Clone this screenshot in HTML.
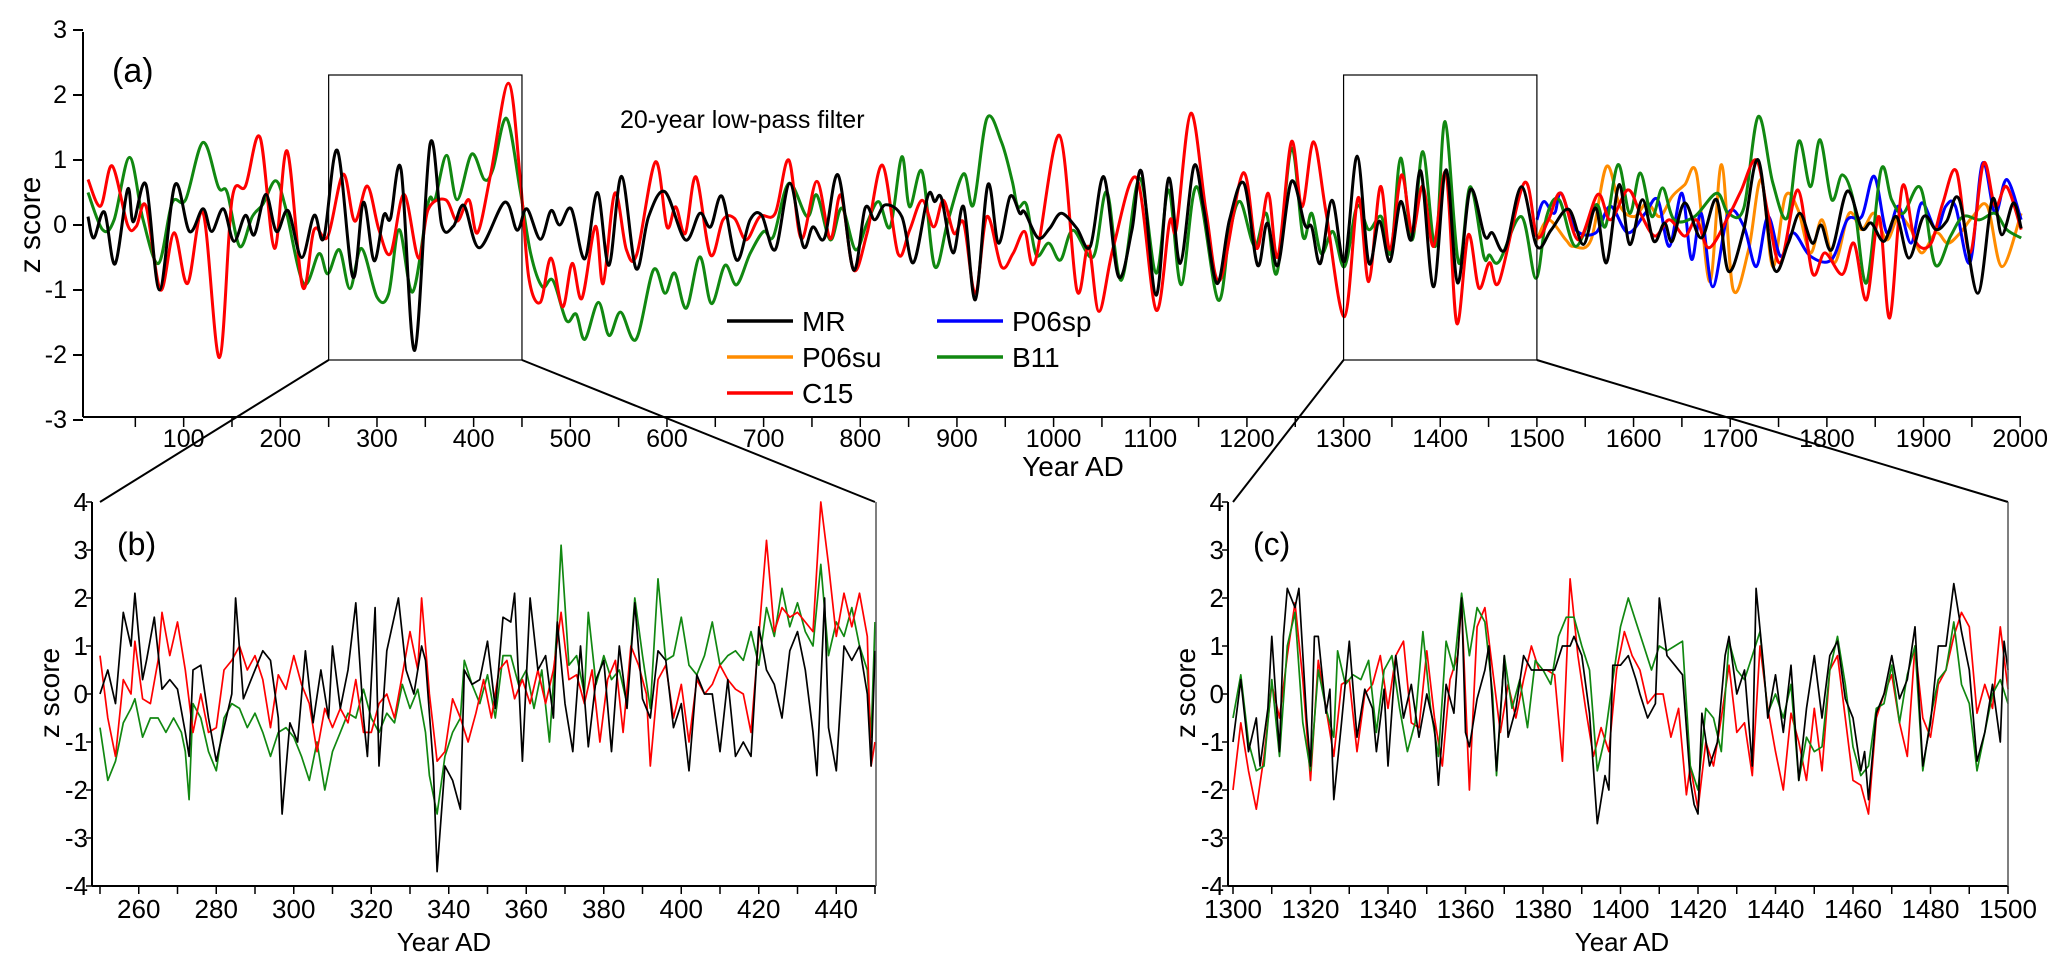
<!DOCTYPE html>
<html><head><meta charset="utf-8"><style>
html,body{margin:0;padding:0;background:#fff;}
svg{display:block;font-family:"Liberation Sans Narrow","Liberation Sans",Arial,sans-serif;}
</style></head><body>
<svg id="chart" width="2067" height="975" viewBox="0 0 2067 975" xmlns="http://www.w3.org/2000/svg"></svg>
<script>
// ---------- Panel (a): 20-year low-pass series ----------
const aMRYears=[1,7,18,29,42,48,61,75,91,106,120,129,141,152,164,173,185,196,208,222,235,245,259,275,286,297,307,314,325,339,355,367,379,390,406,432,445,455,469,480,489,501,515,528,540,553,568,581,598,619,634,645,657,672,686,698,712,727,741,751,763,777,793,805,815,826,843,855,870,877,884,896,907,919,932,943,955,965,970,984,996,1008,1024,1038,1052,1067,1081,1091,1106,1119,1131,1145,1155,1169,1182,1197,1211,1221,1232,1246,1260,1267,1276,1288,1301,1314,1326,1337,1348,1359,1370,1380,1393,1406,1418,1431,1446,1454,1467,1484,1500,1515,1533,1548,1561,1572,1585,1596,1609,1621,1632,1640,1653,1670,1686,1698,1714,1729,1745,1760,1772,1785,1794,1805,1821,1836,1846,1859,1872,1885,1900,1913,1924,1937,1956,1971,1981,1993,2001];
const aMR=[0.13,-0.2,0.2,-0.6,0.55,0.05,0.62,-1.0,0.62,-0.1,0.25,-0.1,0.25,-0.25,0.15,-0.15,0.47,-0.1,0.22,-0.5,0.15,-0.2,1.15,-0.8,0.35,-0.55,0.15,0.1,0.85,-1.93,1.25,0.0,-0.02,0.3,-0.35,0.35,-0.08,0.25,-0.22,0.22,0.0,0.25,-0.52,0.5,-0.62,0.75,-0.67,0.13,0.51,-0.23,0.18,-0.03,0.44,-0.54,0.08,0.15,-0.38,0.64,-0.33,-0.03,-0.2,0.77,-0.69,0.26,0.08,0.31,0.13,-0.58,0.45,0.36,0.41,-0.43,0.28,-1.15,0.62,-0.28,0.44,0.18,0.2,-0.2,-0.05,0.18,-0.05,-0.33,0.74,-0.79,-0.08,0.82,-1.08,0.72,-0.59,0.9,0.28,-0.9,0.08,0.64,-0.62,0.03,-0.62,0.67,0.0,-0.03,-0.59,0.38,-0.56,1.06,-0.58,0.06,-0.56,0.36,-0.23,0.83,-0.95,0.85,-0.89,0.54,-0.17,-0.12,-0.38,0.59,-0.33,-0.07,0.24,-0.3,0.26,-0.58,0.62,-0.3,0.39,-0.25,0.03,-0.25,0.34,-0.2,0.39,-0.71,-0.07,1.0,-0.66,-0.28,0.18,-0.28,0.0,-0.38,0.52,-0.05,0.03,-0.25,0.13,-0.51,0.13,-0.07,0.06,0.39,-1.05,0.39,-0.15,0.34,-0.05];
const aC15Years=[1,14,26,42,51,61,76,90,104,120,137,150,164,179,194,207,223,235,249,265,277,290,302,314,328,343,353,371,383,395,404,418,436,448,457,469,480,492,502,512,526,534,546,558,569,588,600,609,619,630,645,658,670,682,696,712,726,739,755,769,780,793,807,823,839,851,864,876,886,897,907,919,931,946,958,970,981,1006,1024,1036,1047,1062,1086,1106,1120,1127,1142,1158,1172,1196,1210,1222,1232,1246,1257,1269,1282,1301,1315,1326,1338,1348,1360,1371,1382,1393,1406,1417,1429,1440,1451,1461,1487,1500,1512,1525,1543,1563,1576,1594,1607,1622,1637,1653,1665,1678,1698,1711,1727,1739,1752,1770,1785,1798,1816,1828,1841,1854,1865,1878,1891,1907,1920,1934,1948,1962,1974,1986,2001];
const aC15=[0.7,0.29,0.91,0.0,-0.02,0.29,-1.0,-0.12,-0.9,0.19,-2.04,0.39,0.6,1.35,-0.36,1.14,-0.95,-0.07,-0.18,0.78,0.06,0.6,-0.07,-0.44,0.47,-0.51,0.24,0.39,0.06,0.39,-0.12,0.81,2.18,0.76,-0.8,-1.19,-0.51,-1.26,-0.59,-1.13,-0.02,-0.9,0.49,-0.38,-0.44,0.97,-0.03,0.28,-0.13,0.74,-0.46,0.08,0.1,-0.23,0.13,0.18,1.0,-0.21,0.67,-0.21,0.46,-0.69,-0.13,0.92,-0.44,-0.08,0.38,-0.03,0.38,-0.13,0.03,-1.05,0.13,-0.64,-0.44,-0.1,-0.56,1.38,-1.0,-0.33,-1.33,-0.33,0.72,-1.31,0.05,-0.05,1.72,0.18,-0.85,0.8,-0.36,0.49,-0.49,1.28,0.28,1.28,0.18,-1.41,0.42,-0.87,0.59,-0.38,0.77,-0.12,0.6,-0.33,0.8,-1.51,-0.15,-0.97,-0.58,-0.87,0.65,-0.17,0.08,0.49,-0.23,0.47,0.08,0.54,0.18,-0.17,0.08,-0.17,0.08,-0.35,0.13,0.52,1.0,0.18,-0.58,0.54,-0.74,-0.43,-0.76,-0.28,-1.15,0.13,-1.43,0.59,-0.23,-0.3,0.34,0.83,-0.43,0.95,0.29,0.59,-0.07];
const aB11Years=[1,16,28,44,58,74,88,102,120,136,145,158,171,182,195,205,224,240,249,261,272,284,300,312,323,337,353,360,372,383,398,411,420,434,448,459,471,482,496,506,515,529,540,552,568,586,598,608,620,634,646,660,672,686,700,710,726,745,755,769,781,795,807,819,831,843,851,864,877,891,907,917,931,946,957,963,972,982,995,1007,1020,1041,1055,1070,1089,1106,1119,1132,1148,1170,1182,1193,1208,1220,1231,1246,1258,1267,1277,1289,1301,1314,1326,1339,1349,1359,1371,1382,1395,1405,1419,1431,1445,1451,1461,1484,1499,1510,1523,1540,1561,1571,1584,1596,1607,1619,1630,1642,1663,1686,1698,1714,1729,1744,1759,1771,1783,1793,1805,1816,1828,1841,1856,1867,1879,1897,1912,1928,1941,1958,1974,1986,2001];
const aB11=[0.5,-0.07,0.08,1.04,0.08,-0.59,0.34,0.39,1.27,0.58,0.5,-0.33,0.13,0.32,0.68,0.29,-0.9,-0.44,-0.75,-0.38,-0.98,-0.36,-1.11,-1.06,-0.07,-1.03,0.34,0.39,1.07,0.39,1.09,0.7,0.86,1.64,0.55,-0.44,-0.95,-0.85,-1.47,-1.37,-1.76,-1.19,-1.7,-1.34,-1.76,-0.69,-1.05,-0.74,-1.28,-0.49,-1.21,-0.62,-0.92,-0.44,-0.1,-0.18,0.64,0.13,0.46,-0.23,0.26,-0.38,0.03,0.36,-0.03,1.05,0.28,0.82,-0.64,0.08,0.79,0.31,1.64,1.28,0.69,0.28,0.31,-0.46,-0.28,-0.54,-0.08,-0.49,0.51,-0.85,0.72,-0.74,0.54,-0.92,0.59,-1.15,-0.13,0.36,-0.33,0.18,-0.74,1.18,-0.18,0.18,-0.44,-0.1,-0.64,0.29,-0.07,0.13,-0.43,1.03,-0.23,1.13,-0.33,1.59,-0.58,0.59,-0.48,-0.46,-0.56,0.13,-0.82,0.13,0.39,-0.33,0.31,-0.02,0.93,0.18,0.8,0.13,0.57,0.08,0.13,0.49,0.18,0.26,1.67,0.65,0.11,1.29,0.59,1.31,0.39,0.77,0.34,-0.89,0.85,0.39,0.18,0.57,-0.61,-0.17,0.13,0.08,0.18,-0.07,-0.2];
const aP06suYears=[1500,1512,1530,1538,1556,1572,1586,1601,1614,1627,1640,1653,1665,1679,1691,1703,1719,1732,1744,1757,1770,1783,1795,1808,1823,1836,1849,1862,1874,1887,1898,1913,1925,1938,1951,1966,1981,2001];
const aP06su=[-0.23,0.08,-0.23,-0.33,-0.23,0.9,0.29,0.13,0.34,0.13,0.44,0.62,0.8,-0.87,0.93,-0.99,-0.38,0.7,-0.64,0.44,0.24,-0.43,0.08,-0.58,0.18,-0.07,0.18,-0.23,0.13,-0.07,-0.43,-0.12,-0.28,-0.12,0.13,0.29,-0.64,0.18];
const aP06spYears=[1500,1507,1518,1525,1540,1561,1576,1594,1612,1625,1637,1650,1660,1670,1682,1698,1714,1727,1739,1752,1765,1783,1805,1821,1836,1849,1862,1874,1887,1898,1913,1923,1933,1948,1961,1974,1986,2001];
const aP06sp=[0.08,0.36,0.18,0.49,-0.07,-0.12,0.29,-0.12,0.18,0.39,-0.33,0.49,-0.53,0.18,-0.95,0.18,-0.02,-0.64,0.13,-0.48,-0.12,-0.48,-0.53,0.08,0.13,0.75,-0.12,0.29,-0.28,0.34,-0.07,0.29,0.29,-0.58,0.95,0.18,0.7,0.08];
const aXTicks=[100,200,300,400,500,600,700,800,900,1000,1100,1200,1300,1400,1500,1600,1700,1800,1900,2000];
const aYTicks=[-3,-2,-1,0,1,2,3];

// ---------- Panel (b): annual 250-450 ----------
const bMRYears=[250,252,254,256,258,259,261,262,264,266,268,270,272,273,274,276,278,280,282,284,285,287,290,292,294,296,297,299,301,303,305,307,309,310,312,314,316,318,319,321,322,324,327,329,331,333,334,336,337,339,341,343,344,346,348,350,352,354,356,357,359,361,363,365,367,368,370,372,374,376,378,380,382,384,386,388,390,392,394,396,398,400,402,404,406,408,410,412,414,416,418,420,422,424,426,428,430,432,434,435,437,438,440,442,444,446,448,449,450];
const bMR=[0.0,0.5,-0.2,1.7,1.0,2.1,0.3,0.7,1.6,0.1,0.3,0.1,-0.8,-1.3,0.5,0.6,-0.5,-1.4,-0.7,0.0,2.0,-0.1,0.5,0.9,0.7,-0.5,-2.5,-0.6,-1.0,0.9,-0.6,0.5,-0.5,1.0,-0.3,0.5,1.9,-0.5,-1.3,1.8,-1.5,0.9,2.0,0.5,0.0,1.0,0.7,-1.5,-3.7,-1.5,-1.8,-2.4,0.5,0.2,0.3,1.1,-0.3,1.6,1.5,2.1,-1.4,2.0,0.5,0.8,-0.5,1.5,-0.2,-1.2,1.0,-1.1,0.3,0.7,-1.2,1.0,-0.3,1.9,-0.1,-0.5,0.9,0.7,-0.7,-0.2,-1.6,0.4,0.0,0.0,-1.2,0.3,-1.3,-1.0,-1.3,1.4,0.5,0.2,-0.5,0.9,1.3,0.5,-0.8,-1.7,2.0,-0.7,-1.6,1.0,0.7,1.0,0.0,-1.5,0.9];
const bC15Years=[250,252,254,256,258,259,261,263,265,266,268,270,272,274,276,278,280,282,284,286,288,290,292,294,296,298,300,302,304,306,308,310,312,314,316,318,320,322,324,326,328,330,332,333,335,337,339,341,343,345,347,349,351,353,355,357,359,361,363,365,367,369,371,373,375,377,379,381,383,385,387,389,391,392,394,396,398,400,402,404,406,408,410,412,414,416,418,420,422,424,426,428,430,432,434,436,438,440,442,444,446,448,449,450];
const bC15=[0.8,-0.5,-1.3,0.3,0.0,1.1,-0.1,-0.2,0.7,1.7,0.8,1.5,0.5,-0.8,0.0,-0.8,-0.7,0.5,0.7,1.0,0.5,0.8,0.3,-0.7,0.4,0.1,0.8,0.2,-0.2,-1.2,-0.3,-0.7,-0.3,-0.6,0.3,-0.8,-0.8,-0.2,0.0,-0.5,0.4,1.3,0.5,2.0,0.0,-1.4,-1.2,-0.1,-0.5,-1.0,-0.4,0.3,-0.5,0.5,0.7,-0.1,0.3,-0.2,0.5,-0.2,0.5,1.7,0.3,0.4,-0.2,0.5,-1.0,0.3,0.7,-0.8,1.0,0.6,0.0,-1.5,0.3,0.6,-0.5,0.2,-1.0,0.3,0.0,0.2,0.6,0.3,0.1,0.0,-0.8,1.2,3.2,1.3,1.8,1.6,1.7,1.5,1.3,4.0,2.7,1.2,2.1,1.4,2.1,1.2,-1.5,-1.0];
const bB11Years=[250,252,254,256,258,259,261,263,265,267,269,271,272,273,274,276,278,280,282,284,286,288,290,292,294,296,298,300,302,304,306,308,310,312,314,316,318,320,322,324,326,328,330,332,334,335,337,339,341,343,344,346,348,350,352,354,356,358,360,362,364,366,368,369,371,373,375,376,378,380,382,384,386,388,390,392,394,396,398,400,402,404,406,408,410,412,414,416,418,420,422,424,426,428,430,432,434,436,438,440,442,444,446,448,449,450];
const bB11=[-0.7,-1.8,-1.4,-0.6,-0.3,-0.1,-0.9,-0.5,-0.5,-0.8,-0.5,-0.8,-1.2,-2.2,-0.2,-0.5,-1.2,-1.6,-0.5,-0.2,-0.3,-0.7,-0.4,-0.8,-1.3,-0.8,-0.7,-0.9,-1.3,-1.8,-1.0,-2.0,-1.2,-0.8,-0.4,-0.5,0.1,-0.5,-0.8,-0.4,-0.6,0.2,-0.3,0.1,-0.8,-1.7,-2.5,-1.3,-0.8,-0.5,0.7,0.2,-0.2,0.4,-0.5,0.8,0.8,0.2,0.5,-0.3,0.5,-1.0,1.5,3.1,0.6,0.8,0.0,1.7,0.2,0.8,0.3,0.5,-0.2,2.0,0.8,-0.3,2.4,0.7,0.8,1.6,0.6,0.4,0.8,1.5,0.6,0.8,0.9,0.7,1.3,0.6,1.8,1.2,2.2,1.4,1.9,1.3,1.0,2.7,0.8,1.5,1.2,1.8,1.0,0.5,-0.9,1.5];

// ---------- Panel (c): annual 1300-1500 ----------
const cMRYears=[1300,1302,1304,1306,1307,1309,1310,1312,1313,1314,1316,1317,1319,1320,1321,1322,1324,1325,1326,1328,1330,1332,1334,1336,1337,1339,1340,1342,1344,1346,1348,1350,1352,1353,1355,1357,1359,1360,1361,1363,1365,1366,1368,1370,1371,1373,1375,1377,1379,1381,1383,1385,1387,1388,1390,1392,1394,1396,1397,1398,1400,1402,1404,1405,1407,1409,1410,1412,1414,1416,1418,1419,1420,1421,1423,1425,1427,1428,1430,1432,1434,1435,1437,1438,1440,1442,1444,1446,1448,1450,1452,1454,1456,1458,1460,1462,1463,1464,1466,1468,1470,1472,1474,1476,1478,1480,1482,1484,1486,1488,1490,1492,1494,1496,1498,1499,1500];
const cMR=[-1.0,0.3,-1.2,-0.5,-1.5,-0.3,1.2,-1.2,1.2,2.2,1.8,2.2,-0.5,-1.5,1.2,1.2,-0.4,0.1,-2.2,-0.6,1.1,-0.9,0.1,-0.3,-1.2,0.1,-1.5,0.8,-0.5,0.2,-0.9,0.0,-0.7,-1.9,0.2,-0.4,2.0,-0.8,-1.1,-0.1,0.5,1.0,-1.6,0.8,-0.9,-0.3,0.8,0.5,0.5,0.5,0.5,1.0,1.0,1.2,0.8,-0.4,-2.7,-1.7,-2.0,0.6,0.6,0.8,0.3,0.0,-0.5,-0.2,2.0,0.8,0.6,0.4,-1.8,-2.3,-2.5,-0.4,-1.5,-1.0,0.8,1.2,0.0,0.5,-1.5,2.2,0.5,-0.5,0.4,-0.8,0.6,-1.8,-0.3,0.8,-0.5,0.8,1.1,-0.1,-0.5,-1.6,-1.2,-2.2,-0.4,0.0,0.8,-0.1,0.3,1.4,-1.5,-0.6,1.0,1.0,2.3,1.3,0.5,-1.4,-0.8,0.2,-1.0,1.1,0.5];
const cC15Years=[1300,1302,1304,1306,1308,1310,1312,1314,1316,1318,1320,1322,1324,1326,1328,1330,1332,1334,1336,1338,1340,1342,1344,1346,1348,1350,1352,1354,1356,1358,1359,1361,1363,1365,1367,1369,1371,1373,1375,1377,1379,1381,1383,1385,1387,1389,1391,1393,1395,1397,1399,1401,1403,1405,1407,1409,1411,1413,1415,1417,1418,1420,1422,1424,1426,1428,1430,1432,1434,1436,1438,1440,1442,1444,1446,1448,1450,1452,1454,1456,1458,1460,1462,1464,1466,1468,1470,1472,1474,1476,1478,1480,1482,1484,1486,1488,1490,1492,1494,1496,1498,1500];
const cC15=[-2.0,-0.6,-1.6,-2.4,-1.3,0.2,-0.5,0.8,1.9,0.3,-1.8,0.7,-0.3,-1.3,0.2,0.3,-1.2,0.0,0.2,0.8,-0.3,0.8,1.1,-0.6,-0.7,0.9,-0.5,-1.5,0.3,0.8,1.9,-2.0,1.4,1.8,0.5,-0.8,0.2,-0.5,0.3,1.0,0.5,0.5,0.4,-1.4,2.4,0.8,-0.3,-1.3,-0.7,-1.2,0.5,1.3,0.8,0.5,-0.2,0.0,0.0,-0.9,-0.3,-2.1,-1.5,-2.4,-1.0,-1.5,-0.5,0.6,-0.8,-0.6,-1.7,1.0,-0.3,-1.2,-2.0,-0.4,-1.0,-1.8,-0.3,-1.6,0.5,0.8,-0.5,-1.8,-1.9,-2.5,-0.5,0.0,0.4,-0.6,-1.3,1.0,-0.5,-0.9,0.2,0.5,1.2,1.7,1.4,-0.4,0.2,-0.3,1.4,0.1];
const cB11Years=[1300,1302,1304,1306,1308,1310,1312,1314,1316,1318,1320,1322,1324,1326,1327,1329,1331,1333,1335,1337,1339,1341,1343,1345,1347,1349,1351,1353,1355,1357,1359,1361,1363,1365,1367,1368,1370,1372,1374,1376,1378,1380,1382,1384,1386,1388,1390,1392,1394,1396,1398,1400,1402,1404,1406,1408,1410,1412,1414,1416,1418,1420,1422,1424,1426,1428,1430,1432,1434,1436,1438,1440,1442,1444,1446,1448,1450,1452,1454,1456,1458,1460,1462,1464,1466,1468,1470,1472,1474,1476,1478,1480,1482,1484,1486,1488,1490,1492,1494,1496,1498,1500];
const cB11=[-0.5,0.4,-1.0,-1.6,-1.5,0.3,-1.3,1.0,1.7,-0.6,-1.6,0.5,-0.3,-0.9,0.9,0.2,0.4,0.3,0.7,-0.8,0.5,0.8,-0.3,-1.2,-0.6,1.3,-0.3,-1.3,1.1,0.5,2.1,0.8,1.8,1.5,0.0,-1.7,0.8,-0.3,0.3,-0.7,0.7,0.5,0.2,1.2,1.6,1.6,1.0,0.5,-1.6,-0.9,0.3,1.4,2.0,1.5,1.0,0.5,1.0,0.9,1.0,1.1,-1.5,-2.0,-0.3,-0.5,-1.2,1.1,0.5,0.3,0.8,1.3,-0.4,0.0,-0.5,0.2,-1.8,-0.9,-1.2,-1.1,0.5,1.2,0.2,-1.1,-1.7,-1.5,-0.3,-0.2,0.6,-0.6,0.4,1.0,-1.6,-0.5,0.3,0.5,1.5,0.2,-0.2,-1.6,-0.8,0.0,0.3,-0.2];
const bXTicks=[260,280,300,320,340,360,380,400,420,440];
const cXTicks=[1300,1320,1340,1360,1380,1400,1420,1440,1460,1480,1500];
const bcYTicks=[-4,-3,-2,-1,0,1,2,3,4];

// ---------- drawing ----------
const NS="http://www.w3.org/2000/svg";
const svg=document.getElementById('chart');
function mk(tag,attrs,parent){const e=document.createElementNS(NS,tag);for(const k in attrs)e.setAttribute(k,attrs[k]);(parent||svg).appendChild(e);return e;}
function txt(str,attrs,parent){const e=mk('text',attrs,parent);e.textContent=str;return e;}

// axis scale functions
const ax=y=>87+0.9666*y, ay=v=>225-65*v;
const bx=y=>100+(y-250)*3.875, by=v=>694-48*v;
const cx=y=>1233+(y-1300)*3.875, cy=v=>694-48*v;

function smoothPath(xs,ys,fx,fy){
  const p=xs.map((x,i)=>[fx(x),fy(ys[i])]);
  let d='M'+p[0][0].toFixed(1)+','+p[0][1].toFixed(1);
  for(let i=0;i<p.length-1;i++){
    const p0=p[i-1]||p[i],p1=p[i],p2=p[i+1],p3=p[i+2]||p2;
    const c1x=p1[0]+(p2[0]-p0[0])/6,c1y=p1[1]+(p2[1]-p0[1])/6;
    const c2x=p2[0]-(p3[0]-p1[0])/6,c2y=p2[1]-(p3[1]-p1[1])/6;
    d+='C'+c1x.toFixed(1)+','+c1y.toFixed(1)+' '+c2x.toFixed(1)+','+c2y.toFixed(1)+' '+p2[0].toFixed(1)+','+p2[1].toFixed(1);
  }
  return d;
}
function linePath(xs,ys,fx,fy){return xs.map((x,i)=>(i?'L':'M')+fx(x).toFixed(1)+','+fy(ys[i]).toFixed(1)).join('');}

// ===== Panel (a) =====
const gA=mk('g',{});


const series=[[aP06suYears,aP06su,'#ff8c00','series-p06su'],[aP06spYears,aP06sp,'#0000ff','series-p06sp'],[aB11Years,aB11,'#118811','series-b11'],[aC15Years,aC15,'#ff0000','series-c15'],[aMRYears,aMR,'#000000','series-mr']];
series.forEach(s=>{
  const p=mk('path',{d:smoothPath(s[0],s[1],ax,ay),fill:'none',stroke:s[2],'stroke-width':3,'stroke-linejoin':'round'},gA);
  
  
});
// axes
let e=mk('line',{x1:83,y1:32,x2:83,y2:417,stroke:'#000','stroke-width':2},gA);


e=mk('line',{x1:83,y1:417,x2:2021,y2:417,stroke:'#000','stroke-width':2},gA);


aYTicks.forEach(v=>{
  mk('line',{x1:73,y1:ay(v),x2:83,y2:ay(v),stroke:'#000','stroke-width':2},gA);
  const t=txt(String(v),{x:67,y:ay(v)+8,'font-size':25,'text-anchor':'end'},gA);
  
  
});
for(let y=50;y<=2000;y+=50){mk('line',{x1:ax(y),y1:417,x2:ax(y),y2:427,stroke:'#000','stroke-width':1.5},gA);}
aXTicks.forEach(y=>{
  const t=txt(String(y),{x:ax(y),y:447,'font-size':25,'text-anchor':'middle'},gA);
  
  
});
e=txt('Year AD',{x:1073,y:476,'font-size':28,'text-anchor':'middle'},gA);


e=txt('z score',{x:0,y:0,'font-size':30,'text-anchor':'middle',transform:'translate(40,225) rotate(-90)'},gA);


e=txt('(a)',{x:112,y:82,'font-size':34},gA);


e=txt('20-year low-pass filter',{x:620,y:128,'font-size':25,'font-family':'Liberation Sans, sans-serif'},gA);


// zoom boxes and connectors
const boxes=[[250,450,100,875,'zoom-box-b'],[1300,1500,1233,2008,'zoom-box-c']];
boxes.forEach(b=>{
  const r=mk('rect',{x:ax(b[0]),y:75,width:ax(b[1])-ax(b[0]),height:285,fill:'none',stroke:'#000','stroke-width':1.2},svg);
  
  
  mk('line',{x1:ax(b[0]),y1:360,x2:b[2],y2:502,stroke:'#000','stroke-width':2},svg);
  mk('line',{x1:ax(b[1]),y1:360,x2:b[3],y2:502,stroke:'#000','stroke-width':2},svg);
});
// legend
const gL=mk('g',{});


const leg=[['MR','#000',727,321],['P06su','#ff8c00',727,357],['C15','#ff0000',727,393],['P06sp','#0000ff',937,321],['B11','#118811',937,357]];
leg.forEach(l=>{
  const g=mk('g',{},gL);
  
  
  mk('line',{x1:l[2],y1:l[3],x2:l[2]+66,y2:l[3],stroke:l[1],'stroke-width':3.5},g);
  txt(l[0],{x:l[2]+75,y:l[3]+10,'font-size':28,'font-family':'Liberation Sans, sans-serif'},g);
});

// ===== Panels (b) and (c) =====
function lowerPanel(name,label,fx,fy,x0,x1,yr0,yr1,xTicks,data){
  const g=mk('g',{});
  
  
  data.forEach(s=>{
    const p=mk('path',{d:linePath(s[0],s[1],fx,fy),fill:'none',stroke:s[2],'stroke-width':1.7,'stroke-linejoin':'round'},g);
    
    
  });
  mk('line',{x1:x0-8,y1:502,x2:x0-8,y2:886,stroke:'#000','stroke-width':2},g);
  mk('line',{x1:x0-8,y1:886,x2:x1,y2:886,stroke:'#000','stroke-width':2},g);
  mk('line',{x1:x1,y1:502,x2:x1,y2:886,stroke:'#555','stroke-width':1.5},g);
  bcYTicks.forEach(v=>{
    mk('line',{x1:x0-14,y1:fy(v),x2:x0-8,y2:fy(v),stroke:'#000','stroke-width':1.5},g);
    const t=txt(String(v),{x:x0-12,y:fy(v)+9,'font-size':26,'text-anchor':'end'},g);
    
    
  });
  for(let y=yr0;y<=yr1;y+=10){mk('line',{x1:fx(y),y1:886,x2:fx(y),y2:894,stroke:'#000','stroke-width':1.5},g);}
  xTicks.forEach(y=>{
    const t=txt(String(y),{x:fx(y),y:918,'font-size':26,'text-anchor':'middle'},g);
    
    
  });
  let t=txt('Year AD',{x:(x0+x1)/2+(label==='(b)'?-44:0),y:951,'font-size':26,'text-anchor':'middle'},g);
  
  
  t=txt('z score',{x:0,y:0,'font-size':28,'text-anchor':'middle',transform:'translate('+(x0-41)+',693) rotate(-90)'},g);
  
  
  t=txt(label,{x:x0+17,y:555,'font-size':32},g);
  
  
}
lowerPanel('panel-b','(b)',bx,by,100,876,250,450,bXTicks,[[bB11Years,bB11,'#118811','series-b11-annual'],[bC15Years,bC15,'#ff0000','series-c15-annual'],[bMRYears,bMR,'#000','series-mr-annual']]);
lowerPanel('panel-c','(c)',cx,cy,1236,2008,1300,1500,cXTicks,[[cC15Years,cC15,'#ff0000','series-c15-annual'],[cB11Years,cB11,'#118811','series-b11-annual'],[cMRYears,cMR,'#000','series-mr-annual']]);
</script>
</body></html>
